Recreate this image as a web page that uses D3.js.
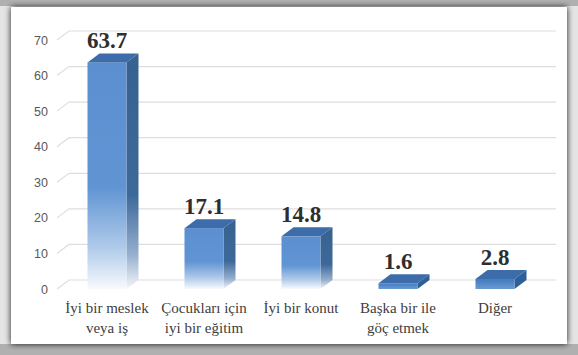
<!DOCTYPE html>
<html>
<head>
<meta charset="utf-8">
<script src="https://cdn.jsdelivr.net/npm/d3@7/dist/d3.min.js"></script>
<style>
  html, body { margin: 0; padding: 0; background: #d0d0d0; }
  svg { display: block; }
</style>
</head>
<body>
<svg id="chart" width="578" height="355"></svg>
<script>
// Survey answers and their percentages
const categories = [
  "İyi bir meslek\nveya iş",
  "Çocukları için\niyi bir eğitim",
  "İyi bir konut",
  "Başka bir ile\ngöç etmek",
  "Diğer"
];
const values = [63.7, 17.1, 14.8, 1.6, 2.8];
const yTicks = [0, 10, 20, 30, 40, 50, 60, 70];

const W = 578, H = 355;
const svg = d3.select("#chart");
const defs = svg.append("defs");

// panel drop shadow
const sh = defs.append("filter").attr("id", "shadow")
  .attr("x", "-5%").attr("y", "-5%").attr("width", "110%").attr("height", "110%");
sh.append("feGaussianBlur").attr("in", "SourceAlpha").attr("stdDeviation", 3).attr("result", "b");
sh.append("feComponentTransfer").attr("in", "b").attr("result", "s")
  .append("feFuncA").attr("type", "linear").attr("slope", 0.9);
const m = sh.append("feMerge");
m.append("feMergeNode").attr("in", "s");
m.append("feMergeNode").attr("in", "SourceGraphic");

// outer background
svg.append("rect").attr("width", W).attr("height", H).attr("fill", "#e4e4e4");
svg.append("rect").attr("x", 0).attr("y", H - 11).attr("width", W).attr("height", 11).attr("fill", "#b0b0b0");
svg.append("rect").attr("x", 0).attr("y", 0).attr("width", W).attr("height", 6).attr("fill", "#b0b0b0");

// white chart panel
svg.append("rect")
  .attr("x", 11).attr("y", 7).attr("width", 556).attr("height", 337)
  .attr("fill", "#ffffff").attr("filter", "url(#shadow)");

// bar face gradients
function vGrad(id, stops) {
  const g = defs.append("linearGradient").attr("id", id)
    .attr("x1", 0).attr("y1", 0).attr("x2", 0).attr("y2", 1);
  stops.forEach(s => g.append("stop").attr("offset", s[0]).attr("stop-color", s[1]));
}
vGrad("gFront", [[0, "#5b8fd0"], [0.55, "#6094d3"], [0.82, "#b0cbea"], [1, "#f8fafd"]]);
vGrad("gSide", [[0, "#37628f"], [0.6, "#3d6999"], [0.85, "#94aecd"], [1, "#f4f6f9"]]);
vGrad("gSlabFront", [[0, "#3f7bc0"], [1, "#6c9ad2"]]);

// scales
const x = d3.scaleBand().domain(d3.range(categories.length)).range([58.5, 543.5]);
const y = d3.scaleLinear().domain([0, 70]).range([289, 40]);
const DX = 12, DY = 9;
const barW = 39;

// gridlines: short diagonal on the side wall, then across the back wall
const grid = svg.append("g");
yTicks.forEach(t => {
  const yy = y(t);
  grid.append("path")
    .attr("d", `M57,${yy} L${57 + DX},${yy - DY} L556,${yy - DY}`)
    .attr("fill", "none").attr("stroke", "#dedede").attr("stroke-width", 1.2);
});

// value axis
const yAxis = svg.append("g").attr("transform", "translate(48,0)")
  .call(d3.axisLeft(y).tickValues(yTicks).tickSize(0).tickPadding(0));
yAxis.select(".domain").remove();
yAxis.selectAll("text")
  .attr("font-family", "'Liberation Sans', Arial, sans-serif")
  .attr("font-size", 12.5).attr("fill", "#595959");

// 3D bars
const bars = svg.append("g").selectAll("g").data(values).join("g");
bars.each(function (v, i) {
  const g = d3.select(this);
  const cx = x(i) + x.bandwidth() / 2;
  const x0 = cx - barW / 2, x1 = cx + barW / 2;
  const yt = y(v), yb = y(0);
  const slab = (yb - yt) < 12;
  // side face
  g.append("path")
    .attr("d", `M${x1},${yt} L${x1 + DX},${yt - DY} L${x1 + DX},${yb - DY} L${x1},${yb} Z`)
    .attr("fill", slab ? "#2f5f98" : "url(#gSide)");
  // front face
  g.append("rect")
    .attr("x", x0).attr("y", yt).attr("width", barW).attr("height", yb - yt)
    .attr("fill", slab ? "url(#gSlabFront)" : "url(#gFront)");
  // top face
  g.append("path")
    .attr("d", `M${x0},${yt} L${x0 + DX},${yt - DY} L${x1 + DX},${yt - DY} L${x1},${yt} Z`)
    .attr("fill", "#3c6ca9");
  // value label
  g.append("text")
    .attr("x", cx).attr("y", yt - DY - 5)
    .attr("text-anchor", "middle")
    .attr("font-family", "'Liberation Serif', 'Times New Roman', serif")
    .attr("font-weight", "bold").attr("font-size", 23)
    .attr("fill", "#2e2e2e")
    .text(v.toFixed(1));
});

// category labels
const cats = svg.append("g").selectAll("text").data(categories).join("text")
  .attr("text-anchor", "middle")
  .attr("font-family", "'Liberation Serif', 'Times New Roman', serif")
  .attr("font-size", 15).attr("fill", "#404040");
cats.each(function (c, i) {
  const cx = x(i) + x.bandwidth() / 2;
  c.split("\n").forEach((line, k) => {
    d3.select(this).append("tspan").attr("x", cx).attr("y", 313 + k * 19.5).text(line);
  });
});
</script>
</body>
</html>
